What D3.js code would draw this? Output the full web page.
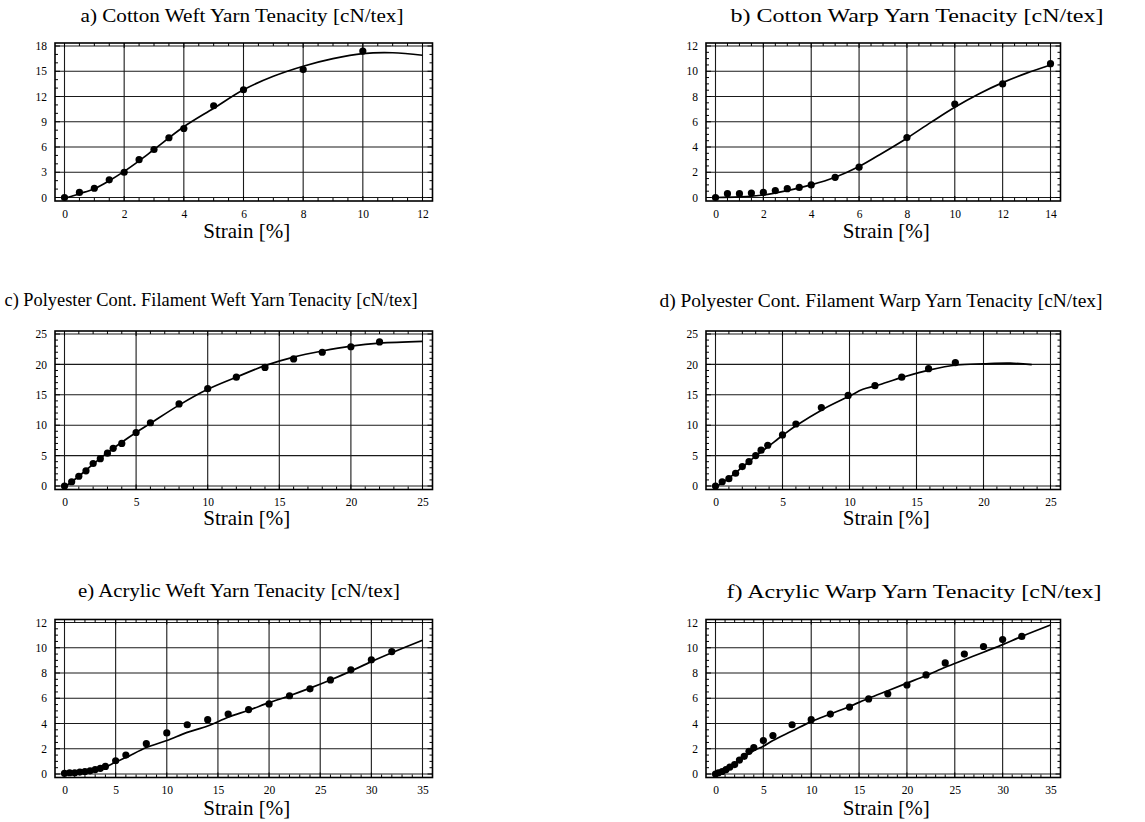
<!DOCTYPE html>
<html>
<head>
<meta charset="utf-8">
<script src="https://cdn.jsdelivr.net/npm/d3@7"></script>
<style>
  body { margin: 0; background: #fff; }
  svg { display: block; }
</style>
</head>
<body>
<div class="chart"></div>
<script>
// Data
// a) Cotton weft
const aPointX = [0, 0.5, 1, 1.5, 2, 2.5, 3, 3.5, 4, 5, 6, 8, 10];
const aPointY = [0, 0.6, 1.1, 2.1, 3.0, 4.5, 5.7, 7.1, 8.2, 10.9, 12.8, 15.2, 17.4];
const aCurveX = [0, 0.5, 1, 1.5, 2, 2.5, 3, 4, 5, 6, 7, 8, 9, 10, 11, 12];
const aCurveY = [-0.1, 0.45, 1.05, 2.0, 3.1, 4.35, 5.7, 8.4, 10.6, 12.8, 14.4, 15.6, 16.5, 17.1, 17.2, 16.9];
const aXTicks = [0, 2, 4, 6, 8, 10, 12];
const aYTicks = [0, 3, 6, 9, 12, 15, 18];

// b) Cotton warp
const bPointX = [0, 0.5, 1, 1.5, 2, 2.5, 3, 3.5, 4, 5, 6, 8, 10, 12, 14];
const bPointY = [0, 0.3, 0.3, 0.35, 0.4, 0.55, 0.7, 0.8, 1.0, 1.6, 2.4, 4.75, 7.4, 9.0, 10.6];
const bCurveX = [0, 1, 2, 3, 4, 5, 6, 7, 8, 9, 10, 11, 12, 13, 14];
const bCurveY = [0, 0.05, 0.2, 0.55, 1.0, 1.6, 2.45, 3.55, 4.7, 5.95, 7.15, 8.2, 9.1, 9.85, 10.5];
const bXTicks = [0, 2, 4, 6, 8, 10, 12, 14];
const bYTicks = [0, 2, 4, 6, 8, 10, 12];

// c) Polyester weft
const cPointX = [0, 0.5, 1, 1.5, 2, 2.5, 3, 3.4, 4, 5, 6, 8, 10, 12, 14, 16, 18, 20, 22];
const cPointY = [0, 0.7, 1.6, 2.5, 3.7, 4.5, 5.4, 6.2, 7.0, 8.8, 10.4, 13.5, 16.0, 17.9, 19.5, 20.9, 22.0, 22.9, 23.7];
const cCurveX = [0, 1, 2, 3, 4, 5, 6, 8, 10, 12, 14, 16, 18, 20, 22, 25];
const cCurveY = [-0.2, 1.6, 3.6, 5.5, 7.2, 8.8, 10.3, 13.3, 15.9, 17.9, 19.8, 21.2, 22.2, 23.0, 23.5, 23.8];
const cXTicks = [0, 5, 10, 15, 20, 25];
const cYTicks = [0, 5, 10, 15, 20, 25];

// d) Polyester warp
const dPointX = [0, 0.5, 1, 1.5, 2, 2.5, 3, 3.4, 3.9, 5, 6, 7.9, 9.9, 11.9, 13.9, 15.9, 17.9];
const dPointY = [0, 0.7, 1.2, 2.1, 3.2, 4.0, 5.0, 5.9, 6.7, 8.4, 10.2, 12.9, 14.9, 16.5, 17.9, 19.3, 20.3];
const dCurveX = [0, 1, 2, 3, 4, 5, 6, 8, 10, 11, 12, 14, 16, 18, 20, 22, 23.6];
const dCurveY = [-0.2, 1.3, 3.1, 4.9, 6.6, 8.3, 9.9, 12.6, 14.8, 15.9, 16.5, 17.9, 19.1, 19.9, 20.1, 20.2, 19.95];
const dXTicks = [0, 5, 10, 15, 20, 25];
const dYTicks = [0, 5, 10, 15, 20, 25];

// e) Acrylic weft
const ePointX = [0, 0.5, 1, 1.5, 2, 2.5, 3, 3.5, 4, 5, 6, 8, 10, 12, 14, 16, 18, 20, 22, 24, 26, 28, 30, 32];
const ePointY = [0.05, 0.1, 0.1, 0.15, 0.2, 0.25, 0.35, 0.45, 0.6, 1.05, 1.5, 2.4, 3.25, 3.9, 4.3, 4.75, 5.1, 5.55, 6.2, 6.75, 7.45, 8.25, 9.05, 9.7];
const eCurveX = [0, 1, 2, 3, 4, 5, 6, 8, 10, 12, 14, 16, 18, 20, 22, 24, 26, 28, 30, 32, 35];
const eCurveY = [0, 0.05, 0.15, 0.3, 0.55, 0.95, 1.3, 2.1, 2.65, 3.3, 3.8, 4.5, 5.05, 5.65, 6.2, 6.8, 7.45, 8.15, 8.9, 9.6, 10.6];
const eXTicks = [0, 5, 10, 15, 20, 25, 30, 35];
const eYTicks = [0, 2, 4, 6, 8, 10, 12];

// f) Acrylic warp
const fPointX = [0, 0.3, 0.7, 1.1, 1.5, 2, 2.5, 3, 3.5, 4, 5, 6, 8, 10, 12, 14, 16, 18, 20, 22, 24, 26, 28, 30, 32];
const fPointY = [0, 0.1, 0.2, 0.35, 0.55, 0.75, 1.1, 1.4, 1.8, 2.1, 2.65, 3.05, 3.9, 4.3, 4.75, 5.3, 5.95, 6.35, 7.05, 7.85, 8.8, 9.5, 10.1, 10.65, 10.9];
const fCurveX = [0, 1, 2, 3, 4, 5, 6, 8, 10, 12, 14, 16, 18, 20, 22, 24, 26, 28, 30, 32, 35];
const fCurveY = [0, 0.4, 0.85, 1.35, 1.85, 2.2, 2.65, 3.4, 4.15, 4.75, 5.35, 6.0, 6.6, 7.2, 7.8, 8.45, 9.05, 9.65, 10.25, 10.9, 11.8];
const fXTicks = [0, 5, 10, 15, 20, 25, 30, 35];
const fYTicks = [0, 2, 4, 6, 8, 10, 12];

const titles = [
	'a) Cotton Weft Yarn Tenacity [cN/tex]',
	'b) Cotton Warp Yarn Tenacity [cN/tex]',
	'c) Polyester Cont. Filament Weft Yarn Tenacity [cN/tex]',
	'd) Polyester Cont. Filament Warp Yarn Tenacity [cN/tex]',
	'e) Acrylic Weft Yarn Tenacity [cN/tex]',
	'f) Acrylic Warp Yarn Tenacity [cN/tex]'
];
const xLabel = 'Strain [%]';

const serif = '"Liberation Serif", "Times New Roman", "DejaVu Serif", serif';

// Panel table built from the arrays above
const zip = (xs, ys) => xs.map((x, i) => ({x: x, y: ys[i]}));
const panels = [
	{points: zip(aPointX, aPointY), curve: zip(aCurveX, aCurveY), xTicks: aXTicks, yTicks: aYTicks, xMinor: 0.5, yMinor: 1},
	{points: zip(bPointX, bPointY), curve: zip(bCurveX, bCurveY), xTicks: bXTicks, yTicks: bYTicks, xMinor: 0.5, yMinor: 0.5},
	{points: zip(cPointX, cPointY), curve: zip(cCurveX, cCurveY), xTicks: cXTicks, yTicks: cYTicks, xMinor: 1, yMinor: 1},
	{points: zip(dPointX, dPointY), curve: zip(dCurveX, dCurveY), xTicks: dXTicks, yTicks: dYTicks, xMinor: 1, yMinor: 1},
	{points: zip(ePointX, ePointY), curve: zip(eCurveX, eCurveY), xTicks: eXTicks, yTicks: eYTicks, xMinor: 1, yMinor: 0.5},
	{points: zip(fPointX, fPointY), curve: zip(fCurveX, fCurveY), xTicks: fXTicks, yTicks: fYTicks, xMinor: 1, yMinor: 0.5}
];

// Layout: frame boxes per column / row, title anchors
const cols = [{left: 55, right: 432.5}, {left: 706, right: 1060.5}];
const rows = [{top: 43, bottom: 201}, {top: 331, bottom: 489.5}, {top: 619.5, bottom: 777.5}];
const titlePos = [
	{x: 242, y: 22, w: 323}, {x: 917, y: 22, w: 373},
	{x: 211, y: 306, w: 413}, {x: 881, y: 307, w: 443},
	{x: 239, y: 597, w: 322}, {x: 914, y: 598, w: 375}
];
const labelY = [238, 525, 815];
const pad = {left: 9.5, right: 10, top: 3, bottom: 3.5};

const svg = d3.select('.chart')
	.append('svg')
	.attr('width', 1145)
	.attr('height', 822);

function minorValues(max, step) {
	const n = Math.round(max / step);
	return d3.range(n + 1).map(i => i * step);
}

panels.forEach((p, i) => {
	const col = cols[i % 2];
	const row = rows[Math.floor(i / 2)];
	const xMax = d3.max(p.xTicks);
	const yMax = d3.max(p.yTicks);

	// Scales
	const x = d3.scaleLinear()
		.domain([0, xMax])
		.range([col.left + pad.left, col.right - pad.right]);
	const y = d3.scaleLinear()
		.domain([0, yMax])
		.range([row.bottom - pad.bottom, row.top + pad.top]);

	const g = svg.append('g').attr('class', 'panel');

	// Grid lines
	g.append('g')
		.selectAll('line')
		.data(p.xTicks)
		.enter()
		.append('line')
		.attr('x1', d => x(d)).attr('x2', d => x(d))
		.attr('y1', row.top).attr('y2', row.bottom)
		.attr('stroke', '#1a1a1a')
		.attr('stroke-width', 1.1);
	g.append('g')
		.selectAll('line')
		.data(p.yTicks)
		.enter()
		.append('line')
		.attr('x1', col.left).attr('x2', col.right)
		.attr('y1', d => y(d)).attr('y2', d => y(d))
		.attr('stroke', '#1a1a1a')
		.attr('stroke-width', 1.1);

	// Inner ticks on all four sides
	const xm = minorValues(xMax, p.xMinor);
	const ym = minorValues(yMax, p.yMinor);
	const tickLenX = v => (p.xTicks.includes(v) ? 5 : 3);
	const tickLenY = v => (p.yTicks.includes(v) ? 5 : 3);
	const ticks = g.append('g').attr('stroke', '#000').attr('stroke-width', 1);
	xm.forEach(v => {
		ticks.append('line').attr('x1', x(v)).attr('x2', x(v)).attr('y1', row.bottom).attr('y2', row.bottom - tickLenX(v));
		ticks.append('line').attr('x1', x(v)).attr('x2', x(v)).attr('y1', row.top).attr('y2', row.top + tickLenX(v));
	});
	ym.forEach(v => {
		ticks.append('line').attr('y1', y(v)).attr('y2', y(v)).attr('x1', col.left).attr('x2', col.left + tickLenY(v));
		ticks.append('line').attr('y1', y(v)).attr('y2', y(v)).attr('x1', col.right).attr('x2', col.right - tickLenY(v));
	});

	// Frame
	g.append('rect')
		.attr('x', col.left).attr('y', row.top)
		.attr('width', col.right - col.left)
		.attr('height', row.bottom - row.top)
		.attr('fill', 'none')
		.attr('stroke', '#000')
		.attr('stroke-width', 1.6);

	// Tick labels
	const xAxis = d3.axisBottom(x).tickValues(p.xTicks).tickSize(0).tickPadding(8.5).tickFormat(d3.format('d'));
	g.append('g')
		.attr('transform', `translate(0, ${row.bottom})`)
		.call(xAxis)
		.call(a => a.select('.domain').remove());
	const yAxis = d3.axisLeft(y).tickValues(p.yTicks).tickSize(0).tickPadding(8).tickFormat(d3.format('d'));
	g.append('g')
		.attr('transform', `translate(${col.left}, 0)`)
		.call(yAxis)
		.call(a => a.select('.domain').remove());
	g.selectAll('.tick text')
		.style('font-family', serif)
		.style('font-size', '11.5px')
		.style('fill', '#000');

	// Fitted curve
	const line = d3.line()
		.x(d => x(d.x))
		.y(d => y(d.y))
		.curve(d3.curveCatmullRom.alpha(0.5));
	g.append('path')
		.datum(p.curve)
		.attr('d', line)
		.attr('fill', 'none')
		.attr('stroke', '#000')
		.attr('stroke-width', 1.7);

	// Measured points
	g.append('g')
		.selectAll('circle')
		.data(p.points)
		.enter()
		.append('circle')
		.attr('cx', d => x(d.x))
		.attr('cy', d => y(d.y))
		.attr('r', 3.6)
		.attr('fill', '#000');

	// Title and axis label
	const tp = titlePos[i];
	g.append('text')
		.attr('x', tp.x - tp.w / 2)
		.attr('y', tp.y)
		.attr('textLength', tp.w)
		.attr('lengthAdjust', 'spacingAndGlyphs')
		.style('font-family', serif)
		.style('font-size', '19px')
		.text(titles[i]);
	g.append('text')
		.attr('x', (col.left + col.right) / 2 + 3)
		.attr('y', labelY[Math.floor(i / 2)])
		.attr('text-anchor', 'middle')
		.style('font-family', serif)
		.style('font-size', '21px')
		.text(xLabel);
});
</script>
</body>
</html>
